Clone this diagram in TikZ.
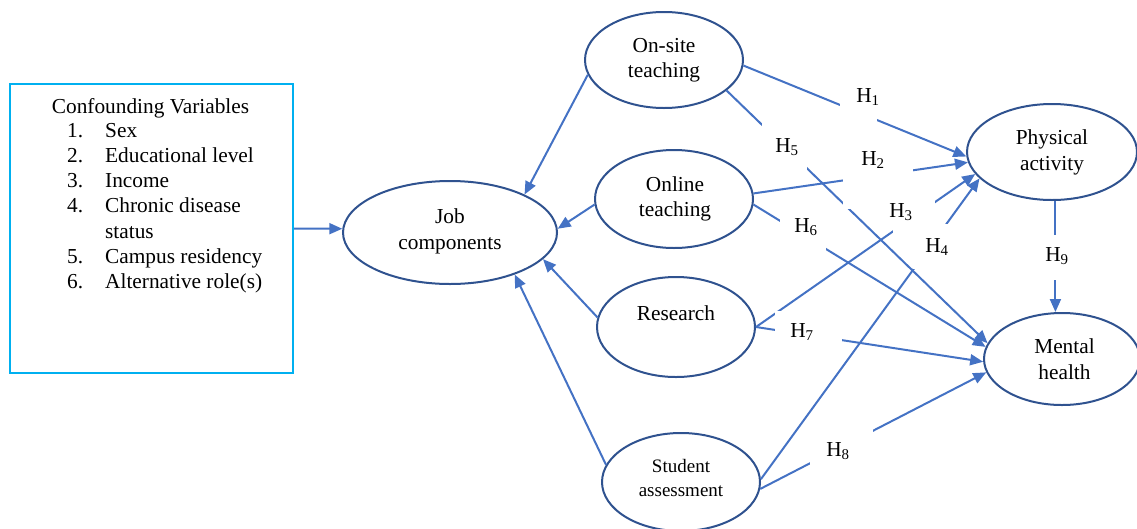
\documentclass[tikz,border=0pt]{standalone}
\usepackage{fontspec}
\setmainfont{Liberation Serif}
\usetikzlibrary{arrows.meta,shapes.geometric}
\definecolor{cblue}{HTML}{4472C4}
\definecolor{ellblue}{HTML}{2F528F}
\definecolor{boxcyan}{HTML}{00B0F0}
\begin{document}
\begin{tikzpicture}[x=1pt,y=-1pt,
  var/.style={ellipse, draw=ellblue, line width=2pt, inner sep=0pt},
  txt/.style={font=\fontsize{21.33}{25.5}\selectfont, align=center, inner sep=0pt},
  smalltxt/.style={font=\fontsize{19}{23.5}\selectfont, align=center, inner sep=0pt},
  hlab/.style={font=\fontsize{21.33}{24.5}\selectfont, inner sep=0pt},
  arr/.style={draw=cblue, line width=2pt, -{Triangle[length=13pt,width=11pt]}},
  masking/.style={fill=white}]
\useasboundingbox (0,0) rectangle (1137,528);

% confounding box
\node[draw=boxcyan, line width=2pt, minimum width=283pt, minimum height=289pt, inner sep=0pt] (box) at (151.5,228.5) {};
\node[txt] (conft) at (150.5,108.5) {Confounding Variables};
\node[anchor=north west, inner sep=0pt, font=\fontsize{21.33}{25.2}\selectfont] (confl) at (67,119.5)
  {\begin{tabular}{@{}p{38pt}@{}l@{}}
   1. & Sex\\
   2. & Educational level\\
   3. & Income\\
   4. & Chronic disease\\
      & status\\
   5. & Campus residency\\
   6. & Alternative role(s)
   \end{tabular}};

% ellipses
\node[var, minimum width=214pt, minimum height=103pt] (job) at (450,232.5) {};
\node[var, minimum width=158pt, minimum height=96pt] (ons) at (664,60) {};
\node[var, minimum width=158pt, minimum height=98pt] (onl) at (674,199) {};
\node[var, minimum width=158pt, minimum height=100pt] (res) at (676,327) {};
\node[var, minimum width=158pt, minimum height=98pt] (stu) at (681,482) {};
\node[var, minimum width=170pt, minimum height=96pt] (phy) at (1052,152) {};
\node[var, minimum width=156pt, minimum height=92pt] (men) at (1062,359) {};

\node[txt] (jobt) at (450,231.5) {Job\\components};
\node[txt] (onst) at (664,60) {On-site\\teaching};
\node[txt] (onlt) at (675,199) {Online\\teaching};
\node[txt] (rest) at (676,313) {Research};
\node[smalltxt] (stut) at (681,478) {Student\\assessment};
\node[txt] (phyt) at (1052,152.5) {Physical\\activity};
\node[txt] (ment) at (1064.5,359) {Mental\\health};

% connectors
\draw[arr] (box.east) -- (job.178);
\draw[arr] (ons.191) -- (job.27);
\draw[arr] (onl.184) -- (job.2);
\draw[arr] (res.173) -- (job.-16);
\draw[arr] (stu.167) -- (job.-33);

\draw[arr] (ons.-4) -- (phy.183);
\draw[arr] (ons.-26) -- (men.168);
\draw[arr] (onl.4) -- (phy.187);
\draw[arr] (onl.-4) -- (men.171);
\draw[arr] (res.east) -- (phy.196);
\draw[arr] (res.east) -- (men.182);
\draw[arr] (stu.2) -- (phy.200);
\draw[arr] (stu.-5) -- (men.190);
\draw[arr] (phy.274) -- (phy.274 |- men.north);

% label boxes (white) that break the lines
\fill[masking] (840,86) rectangle (877,124);
\fill[masking] (762,118) rectangle (807,175);
\fill[masking] (843,148) rectangle (913,209);
\fill[masking] (893,198) rectangle (935,234);
\fill[masking] (913,224) rectangle (952,269);
\fill[masking] (780,212) rectangle (826,252);
\fill[masking] (775,311) rectangle (842,343);
\fill[masking] (810,428) rectangle (873,466);
\fill[masking] (1045,235) rectangle (1070,280);

% hypothesis labels
\node[hlab] (h1) at (868,97) {H\textsubscript{1}};
\node[hlab] (h2) at (873,160) {H\textsubscript{2}};
\node[hlab] (h3) at (901,212) {H\textsubscript{3}};
\node[hlab] (h4) at (937,247) {H\textsubscript{4}};
\node[hlab] (h5) at (787,147) {H\textsubscript{5}};
\node[hlab] (h6) at (806,227) {H\textsubscript{6}};
\node[hlab] (h7) at (802,332) {H\textsubscript{7}};
\node[hlab] (h8) at (838,451) {H\textsubscript{8}};
\node[hlab] (h9) at (1057,256) {H\textsubscript{9}};
\end{tikzpicture}
\end{document}
